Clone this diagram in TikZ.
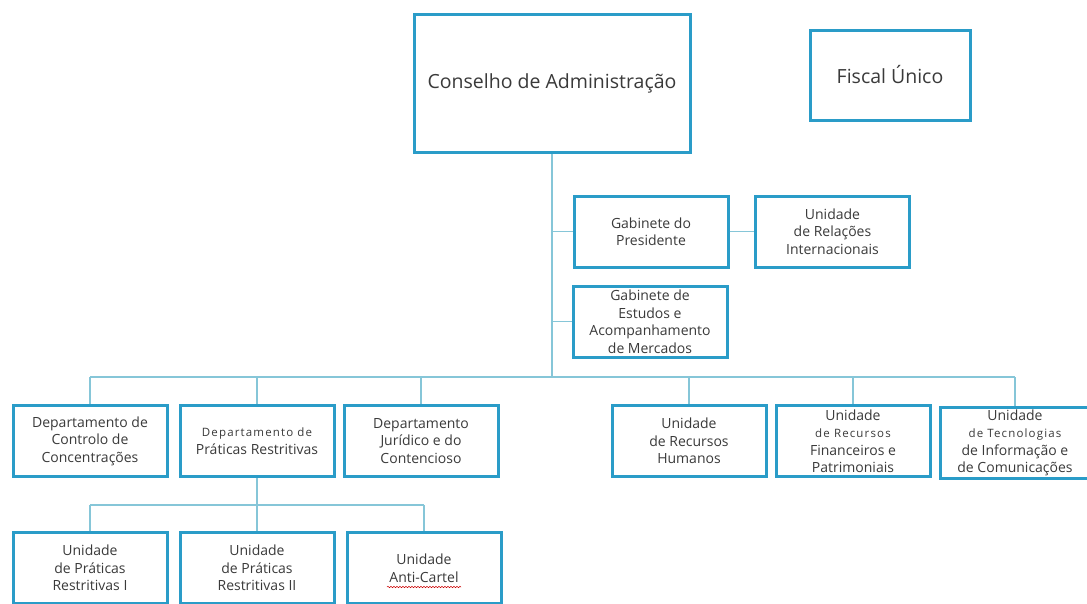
\documentclass[tikz,border=0pt]{standalone}
\usepackage{fontspec}
\setmainfont{Open Sans}
\usetikzlibrary{decorations.pathmorphing}
\definecolor{boxblue}{HTML}{2A9CC8}
\definecolor{lineblue}{HTML}{86C6D8}
\definecolor{txtgray}{HTML}{3A3A3A}
\newcommand{\sm}{\fontsize{11.5}{18}\selectfont\addfontfeatures{LetterSpace=10}}
\begin{document}
\begin{tikzpicture}
[x=1pt, y=-1pt,
 nodes={draw=boxblue, line width=3pt, fill=white, text=txtgray, align=center, inner sep=2pt,
  minimum width=154pt, minimum height=71pt, font=\fontsize{14}{17.5}\selectfont},
 big/.style={font=\fontsize{19.5}{24}\selectfont},
 line width=1.2pt, lineblue]
\useasboundingbox (0,0) rectangle (1087,603);

\node (CA) at (552,83) [big, minimum width=276pt, minimum height=138pt] {Conselho de Administração};
\node (FU) at (890,75) [big, minimum width=160pt, minimum height=90pt] {Fiscal Único};

\node (GP) at (651,231.5) {Gabinete do\\Presidente};
\node (URI) at (832.5,231.5) {Unidade\\de Relações\\Internacionais};
\node (GEAM) at (650,321.5) {Gabinete de\\Estudos e\\Acompanhamento\\de Mercados};

\node (DCC) at (90,441) {Departamento de\\Controlo de\\Concentrações};
\node (DPR) at (257,441) {{\sm Departamento de}\\Práticas Restritivas};
\node (DJC) at (421,441) {Departamento\\Jurídico e do\\Contencioso};
\node (URH) at (689,441) {Unidade\\de Recursos\\Humanos};
\node (URFP) at (853,441) {Unidade\\{\sm de Recursos}\\Financeiros e\\Patrimoniais};
\node (UTIC) at (1015,443) [minimum width=150pt, minimum height=68pt] {Unidade\\{\sm de Tecnologias}\\de Informação e\\de Comunicações};

\node (UPR1) at (90,568) {Unidade\\de Práticas\\Restritivas I};
\node (UPR2) at (257,568) {Unidade\\de Práticas\\Restritivas II};
\node (UAC) at (424,568) {Unidade\\Anti-Cartel};

% main trunk
\coordinate (bus) at (552,377);
\draw (CA) -- (bus);
\draw (GP.west) -- (GP.west -| bus);
\draw (GEAM.west) -- (GEAM.west -| bus);
\draw (GP) -- (URI);
\draw (DCC.north |- bus) -- (UTIC.north |- bus);
\foreach \n in {DCC, DPR, DJC, URH, URFP, UTIC}
  \draw (\n.north) -- (\n.north |- bus);

% units under DPR
\coordinate (bus2) at (257,505);
\draw (DPR) -- (UPR2);
\draw (UPR1.north |- bus2) -- (UAC.north |- bus2);
\draw (UPR1.north) -- (UPR1.north |- bus2);
\draw (UAC.north) -- (UAC.north |- bus2);

\draw[red!80!black, line width=.5pt, decorate, decoration={snake, amplitude=.7pt, segment length=3pt}]
  ([xshift=-37pt, yshift=-19pt]UAC.center) -- ([xshift=37pt, yshift=-19pt]UAC.center);
\end{tikzpicture}
\end{document}
